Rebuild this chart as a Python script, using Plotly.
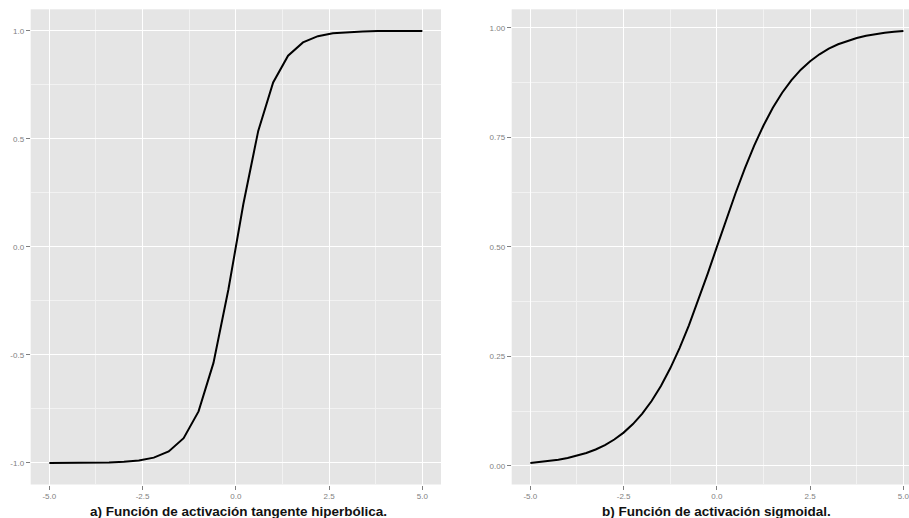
import plotly.graph_objects as go

# Hyperbolic tangent, sampled every 0.4 from -5 to 5
x_tanh = [-5.0, -4.6, -4.2, -3.8, -3.4, -3.0, -2.6, -2.2, -1.8, -1.4, -1.0, -0.6, -0.2,
          0.2, 0.6, 1.0, 1.4, 1.8, 2.2, 2.6, 3.0, 3.4, 3.8, 4.2, 4.6, 5.0]
y_tanh = [-0.9999, -0.9998, -0.9995, -0.9990, -0.9978, -0.9951, -0.9890, -0.9757,
          -0.9468, -0.8854, -0.7616, -0.5370, -0.1974,
          0.1974, 0.5370, 0.7616, 0.8854, 0.9468, 0.9757, 0.9890, 0.9951, 0.9978,
          0.9990, 0.9995, 0.9998, 0.9999]

# Sigmoid, sampled every 0.25 from -5 to 5
x_sig = [-5.0, -4.75, -4.5, -4.25, -4.0, -3.75, -3.5, -3.25, -3.0, -2.75, -2.5, -2.25,
         -2.0, -1.75, -1.5, -1.25, -1.0, -0.75, -0.5, -0.25, 0.0, 0.25, 0.5, 0.75,
         1.0, 1.25, 1.5, 1.75, 2.0, 2.25, 2.5, 2.75, 3.0, 3.25, 3.5, 3.75, 4.0,
         4.25, 4.5, 4.75, 5.0]
y_sig = [0.0067, 0.0086, 0.0110, 0.0141, 0.0180, 0.0230, 0.0293, 0.0373, 0.0474,
         0.0601, 0.0759, 0.0953, 0.1192, 0.1480, 0.1824, 0.2227, 0.2689, 0.3208,
         0.3775, 0.4378, 0.5000, 0.5622, 0.6225, 0.6792, 0.7311, 0.7773, 0.8176,
         0.8520, 0.8808, 0.9047, 0.9241, 0.9399, 0.9526, 0.9627, 0.9707, 0.9770,
         0.9820, 0.9859, 0.9890, 0.9914, 0.9933]

# Tick positions and labels
x_ticks = [-5.0, -2.5, 0.0, 2.5, 5.0]
x_ticklabels = ["-5.0", "-2.5", "0.0", "2.5", "5.0"]
x_minor = [-3.75, -1.25, 1.25, 3.75]
y1_ticks = [-1.0, -0.5, 0.0, 0.5, 1.0]
y1_ticklabels = ["-1.0", "-0.5", "0.0", "0.5", "1.0"]
y1_minor = [-0.75, -0.25, 0.25, 0.75]
y2_ticks = [0.0, 0.25, 0.5, 0.75, 1.0]
y2_ticklabels = ["0.00", "0.25", "0.50", "0.75", "1.00"]
y2_minor = [0.125, 0.375, 0.625, 0.875]

titles = ["a) Función de activación tangente hiperbólica.",
          "b) Función de activación sigmoidal."]

W, H = 909, 518
PANEL_BG = "#E5E5E5"
GRID = "#FFFFFF"
MINOR_GRID = "#F2F2F2"
TICK_GREY = "#7F7F7F"
FONT = "Liberation Sans"

fig = go.Figure()
fig.add_trace(go.Scatter(x=x_tanh, y=y_tanh, mode="lines",
                         line=dict(color="black", width=2),
                         xaxis="x", yaxis="y", showlegend=False))
fig.add_trace(go.Scatter(x=x_sig, y=y_sig, mode="lines",
                         line=dict(color="black", width=2),
                         xaxis="x2", yaxis="y2", showlegend=False))


def axis_style(tickvals, ticktext, minor_vals, rng, domain, anchor):
    return dict(
        domain=domain, anchor=anchor, range=rng,
        tickmode="array", tickvals=tickvals, ticktext=ticktext,
        ticks="outside", ticklen=4, tickwidth=1, tickcolor=TICK_GREY,
        tickfont=dict(family=FONT, size=8, color=TICK_GREY),
        ticklabeloverflow="allow",
        showgrid=True, gridcolor=GRID, gridwidth=1.3,
        zeroline=False, showline=False,
        minor=dict(tickmode="array", tickvals=minor_vals, showgrid=True,
                   gridcolor=MINOR_GRID, gridwidth=0.8, ticks=""),
    )


left_dom = [30.7 / W, 441 / W]
right_dom = [511.7 / W, 1.0]
y_dom = [1 - 484.5 / H, 1 - 9.3 / H]

fig.update_layout(
    width=W, height=H,
    margin=dict(l=0, r=0, t=0, b=0),
    paper_bgcolor="white",
    plot_bgcolor=PANEL_BG,
    xaxis=axis_style(x_ticks, x_ticklabels, x_minor, [-5.5, 5.5], left_dom, "y"),
    yaxis=axis_style(y1_ticks, y1_ticklabels, y1_minor, [-1.1, 1.1], y_dom, "x"),
    xaxis2=axis_style(x_ticks, x_ticklabels, x_minor, [-5.5, 5.15], right_dom, "y2"),
    yaxis2=axis_style(y2_ticks, y2_ticklabels, y2_minor, [-0.0426, 1.0426], y_dom, "x2"),
)

# Captions below each panel
for title, cx in zip(titles, [238 / W, 716.5 / W]):
    fig.add_annotation(text="<b>" + title + "</b>", x=cx, y=1 - 511.5 / H,
                       xref="paper", yref="paper", xanchor="center", yanchor="middle",
                       showarrow=False,
                       font=dict(family=FONT, size=13.5, color="#111111"))

fig.write_html("out.html")
